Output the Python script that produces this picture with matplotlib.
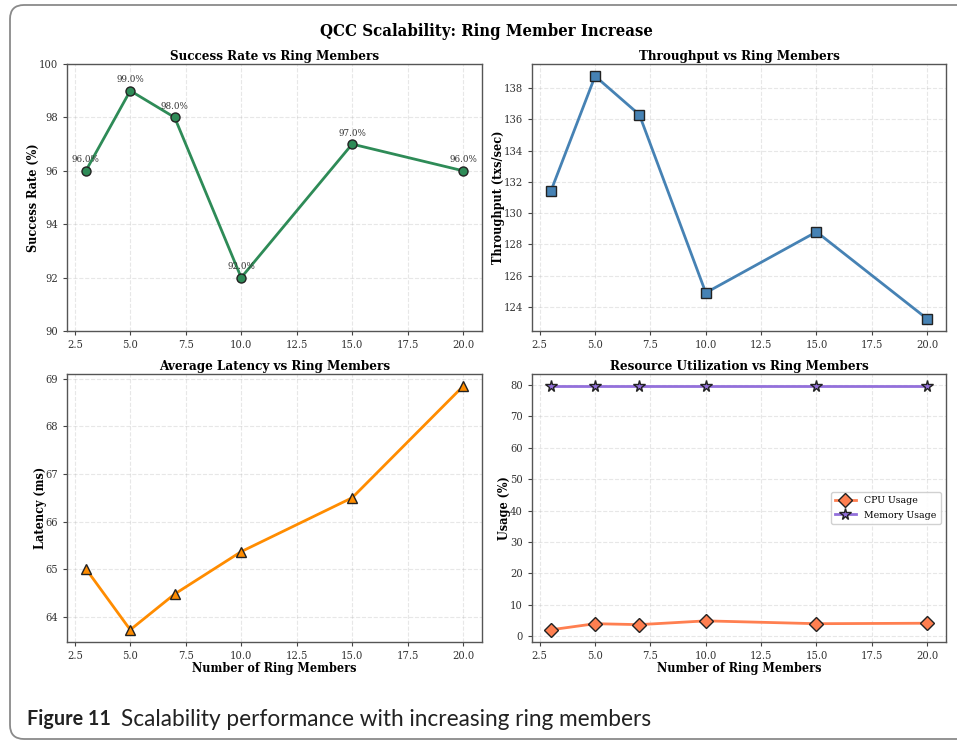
import matplotlib
matplotlib.use("Agg")
import matplotlib.pyplot as plt
from matplotlib.patches import FancyBboxPatch

# data
ring_members = [3, 5, 7, 10, 15, 20]
success_rate = [96.0, 99.0, 98.0, 92.0, 97.0, 96.0]
throughput = [131.4, 138.77, 136.3, 124.9, 128.8, 123.23]
latency = [65.01, 63.73, 64.48, 65.37, 66.5, 68.84]
cpu_usage = [2.0, 3.95, 3.65, 4.85, 3.95, 4.1]
memory_usage = [79.6, 79.6, 79.6, 79.6, 79.6, 79.6]

plt.rcParams['font.family'] = 'DejaVu Serif'
plt.rcParams['font.stretch'] = 'condensed'
plt.rcParams['axes.edgecolor'] = '#555555'
plt.rcParams['xtick.color'] = '#444444'
plt.rcParams['ytick.color'] = '#444444'
plt.rcParams['xtick.labelcolor'] = '#333333'
plt.rcParams['ytick.labelcolor'] = '#333333'

W, H = 957, 740
fig = plt.figure(figsize=(W / 100, H / 100), dpi=100)

# page frame + caption, drawn in pixel coordinates
bg = fig.add_axes([0, 0, 1, 1], zorder=-1)
bg.set_xlim(0, W)
bg.set_ylim(H, 0)
bg.axis('off')
bg.add_patch(FancyBboxPatch((10, 5), 1000, 734, boxstyle="round,pad=0,rounding_size=14",
                            facecolor='white', edgecolor='#8a8a8a', linewidth=1.3))
cap = bg.text(27, 719, "Figure 11", fontsize=14.2, fontweight='bold', va='center',
              family='Lato', color='#222222')
bg.annotate("Scalability performance with increasing ring members", xy=(1, 0.5),
            xycoords=cap, xytext=(7, 0), textcoords='offset points', va='center',
            fontsize=16.3, family='Lato', color='#222222')


def px_axes(left, top, right, bottom):
    return fig.add_axes([left / W, 1 - bottom / H, (right - left) / W, (bottom - top) / H])


ax1 = px_axes(67, 64, 482, 331)
ax2 = px_axes(532, 64, 946, 331)
ax3 = px_axes(67, 374, 482, 642)
ax4 = px_axes(532, 374, 946, 642)

fig.text(0.508, 1 - 32 / H, "QCC Scalability: Ring Member Increase", ha='center', va='center',
         fontsize=12, fontweight='bold')

mk = dict(markeredgecolor='#222222', markeredgewidth=1.0, linewidth=2)

ax1.plot(ring_members, success_rate, marker='o', color='#2E8B57', markersize=6.5, **mk)
for x, y in zip(ring_members, success_rate):
    ax1.annotate(f"{y:.1f}%", (x, y), xytext=(0, 6), textcoords='offset points',
                 ha='center', fontsize=7, color='#333333')
ax1.set_ylim(90, 100)
ax1.set_title("Success Rate vs Ring Members", fontsize=9.6, fontweight='bold', pad=3)
ax1.set_ylabel("Success Rate (%)", fontsize=9, fontweight='bold', labelpad=-1)

ax2.plot(ring_members, throughput, marker='s', color='#4682B4', markersize=6.5, **mk)
ax2.set_title("Throughput vs Ring Members", fontsize=9.6, fontweight='bold', pad=3)
ax2.set_ylabel("Throughput (txs/sec)", fontsize=9, fontweight='bold', labelpad=-1)

ax3.plot(ring_members, latency, marker='^', color='#FF8C00', markersize=7, **mk)
ax3.set_title("Average Latency vs Ring Members", fontsize=9.6, fontweight='bold', pad=3)
ax3.set_ylabel("Latency (ms)", fontsize=9, fontweight='bold', labelpad=-1)
ax3.set_xlabel("Number of Ring Members", fontsize=9, fontweight='bold', labelpad=1)

ax4.plot(ring_members, cpu_usage, marker='D', color='#FF7F50', markersize=7.5, label='CPU Usage', **mk)
ax4.plot(ring_members, memory_usage, marker='*', color='#9370DB', markersize=8.5, label='Memory Usage', **mk)
ax4.set_title("Resource Utilization vs Ring Members", fontsize=9.6, fontweight='bold', pad=3)
ax4.set_ylabel("Usage (%)", fontsize=9, fontweight='bold', labelpad=-1)
ax4.set_xlabel("Number of Ring Members", fontsize=9, fontweight='bold', labelpad=1)
ax4.legend(loc='center right', fontsize=7.5, framealpha=0.9)

for ax in (ax1, ax2, ax3, ax4):
    ax.grid(True, linestyle='--', alpha=0.3)
    ax.tick_params(labelsize=8, length=3)
    for s in ax.spines.values():
        s.set_linewidth(1.0)

fig.savefig("out.png", dpi=100)
